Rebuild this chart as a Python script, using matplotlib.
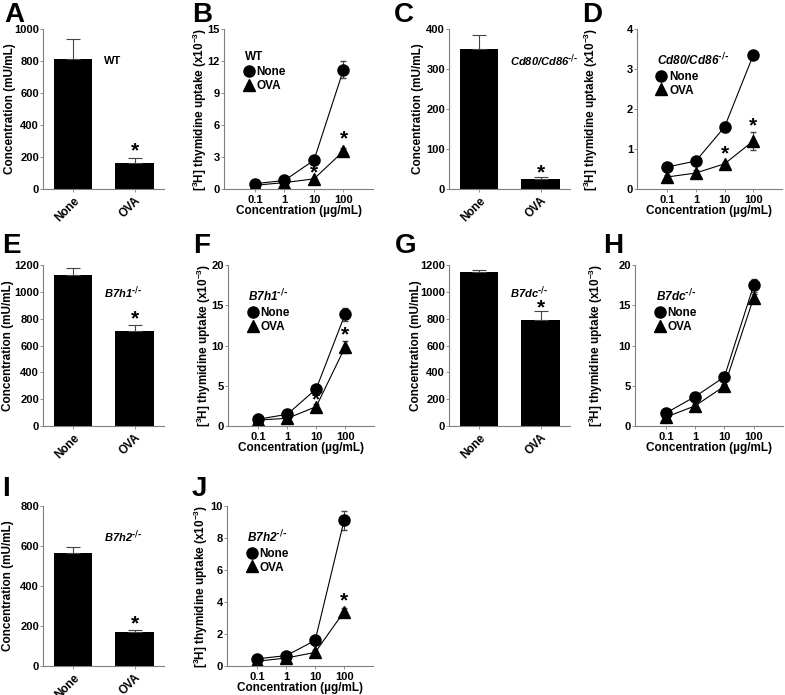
import matplotlib
matplotlib.use("Agg")
import matplotlib.pyplot as plt
from matplotlib.lines import Line2D
import numpy as np

plt.rcParams["font.family"] = ["Liberation Sans", "DejaVu Sans"]
plt.rcParams["font.weight"] = "bold"
plt.rcParams["axes.labelweight"] = "bold"
plt.rcParams["mathtext.default"] = "regular"

# bar panels (A, C, E, G, I)
groups = ["None", "OVA"]
bar_a = [810, 165]
bar_a_err = [130, 30]
bar_c = [350, 25]
bar_c_err = [35, 5]
bar_e = [1125, 710]
bar_e_err = [50, 40]
bar_g = [1145, 790]
bar_g_err = [15, 65]
bar_i = [565, 170]
bar_i_err = [30, 8]

# line panels (B, D, F, H, J)
doses = [0.1, 1, 10, 100]
dose_labels = ["0.1", "1", "10", "100"]
b_none = [0.5, 0.8, 2.7, 11.2]
b_none_err = [0.1, 0.1, 0.2, 0.8]
b_ova = [0.35, 0.6, 0.95, 3.55]
b_ova_err = [0.05, 0.08, 0.1, 0.3]
d_none = [0.55, 0.7, 1.55, 3.35]
d_none_err = [0.05, 0.05, 0.12, 0.04]
d_ova = [0.3, 0.4, 0.63, 1.2]
d_ova_err = [0.05, 0.08, 0.05, 0.22]
f_none = [0.85, 1.45, 4.6, 13.9]
f_none_err = [0.15, 0.2, 0.3, 0.8]
f_ova = [0.75, 0.95, 2.4, 9.8]
f_ova_err = [0.1, 0.1, 0.3, 0.7]
h_none = [1.6, 3.65, 6.1, 17.5]
h_none_err = [0.3, 0.3, 0.3, 0.8]
h_ova = [1.1, 2.5, 4.95, 15.95]
h_ova_err = [0.1, 0.2, 0.3, 0.4]
j_none = [0.45, 0.65, 1.6, 9.1]
j_none_err = [0.1, 0.1, 0.3, 0.6]
j_ova = [0.3, 0.5, 0.85, 3.4]
j_ova_err = [0.05, 0.08, 0.15, 0.2]

KO = r"$^{\text{-/-}}$"

W, H = 785, 695
fig = plt.figure(figsize=(W / 100, H / 100), dpi=100)

GRAY = "#7f7f7f"


def add_ax(left, top, right, bottom):
    return fig.add_axes([left / W, 1 - bottom / H, (right - left) / W, (bottom - top) / H])


def style(ax):
    for s in ["top", "right"]:
        ax.spines[s].set_visible(False)
    for s in ["left", "bottom"]:
        ax.spines[s].set_color(GRAY)
        ax.spines[s].set_linewidth(0.8)
    ax.tick_params(length=2.5, width=0.6, color=GRAY, labelsize=8, pad=1.5)
    ax.tick_params(axis="y", length=2, pad=0.8)


def place_ylabel(ax, x_px, left_px, width_px):
    # centre of the y label at a given pixel column
    ax.yaxis.set_label_coords((x_px - left_px) / width_px, 0.5)
    ax.yaxis.label.set_verticalalignment("center")


def bar_panel(ax, vals, errs, ymax, step, label, star_y, lab_pos, italic=True):
    style(ax)
    x = np.array([0, 1])
    ax.bar(x, vals, width=0.62, color="black")
    ax.errorbar(x, vals, yerr=[[0, 0], errs], fmt="none", ecolor="#444444",
                elinewidth=0.8, capsize=5, capthick=0.8)
    ax.set_xlim(-0.49, 1.48)
    ax.set_ylim(0, ymax)
    ax.set_yticks(np.arange(0, ymax + 1, step))
    ax.set_xticks(x)
    ax.set_xticklabels(groups, rotation=45, ha="right", rotation_mode="anchor",
                       fontsize=8.4)
    ax.set_ylabel("Concentration (mU/mL)", fontsize=8.5)
    ax.text(1, star_y, "*", ha="center", va="center", fontsize=15)
    ax.text(lab_pos[0], lab_pos[1], label, transform=ax.transAxes, fontsize=8,
            style="italic" if italic else "normal", ha="left", va="center")


def line_panel(ax, none, none_err, ova, ova_err, ymax, step, label, stars, italic=True):
    style(ax)
    x = np.log10(doses)
    ax.errorbar(x, none, yerr=none_err, color="black", marker="o", markersize=8,
                linewidth=0.8, elinewidth=0.8, capsize=2, ecolor="#444444")
    ax.errorbar(x, ova, yerr=ova_err, color="black", marker="^", markersize=8,
                linewidth=0.8, elinewidth=0.8, capsize=2, ecolor="#444444")
    for sx, sy in stars:
        ax.text(np.log10(sx), sy, "*", ha="center", va="center", fontsize=15, zorder=5)
    ax.set_xlim(-2.05, 3.0)
    ax.set_ylim(0, ymax)
    ax.set_yticks(np.arange(0, ymax + 0.001, step))
    ax.set_xticks(x)
    ax.set_xticklabels(dose_labels)
    ax.set_xlabel("Concentration (\u00b5g/mL)", fontsize=8.5, labelpad=0.5)
    ax.set_ylabel("[$^{3}$H] thymidine uptake (x10$^{-3}$)", fontsize=8.5)
    handles = [Line2D([], [], color="black", marker="o", markersize=8, linestyle="none"),
               Line2D([], [], color="black", marker="^", markersize=8, linestyle="none")]
    leg = ax.legend(handles, ["None", "OVA"], title=label, loc="upper left",
                    bbox_to_anchor=(0.14, 0.86), frameon=False, fontsize=8.5,
                    handlelength=0.7, handletextpad=0.3, labelspacing=0.15,
                    borderpad=0, borderaxespad=0, alignment="left",
                    title_fontproperties={"weight": "bold", "size": 8.5,
                                          "style": "italic" if italic else "normal"})
    leg._legend_box.sep = 2


rows = [(29, 189), (265, 426), (506, 666)]


def bar_ax(left, r, ylab_x):
    right = left + 121
    ax = add_ax(left, rows[r][0], right, rows[r][1])
    place_ylabel(ax, ylab_x, left, right - left)
    return ax


def line_ax(left, r, ylab_x, right):
    ax = add_ax(left, rows[r][0], right, rows[r][1])
    place_ylabel(ax, ylab_x, left, right - left)
    return ax


ax = bar_ax(43, 0, 10)
bar_panel(ax, bar_a, bar_a_err, 1000, 200, "WT", 240, (0.5, 0.8), italic=False)
ax = line_ax(224, 0, 200, 373)
line_panel(ax, b_none, b_none_err, b_ova, b_ova_err, 15, 3, "WT",
           [(10, 1.5), (100, 4.7)], italic=False)
ax = bar_ax(449, 0, 418)
bar_panel(ax, bar_c, bar_c_err, 400, 100, "Cd80/Cd86" + KO, 40, (0.5, 0.8))
ax = line_ax(637, 0, 591, 782)
line_panel(ax, d_none, d_none_err, d_ova, d_ova_err, 4, 1, "Cd80/Cd86" + KO,
           [(10, 0.88), (100, 1.58)])

ax = bar_ax(43, 1, 8)
bar_panel(ax, bar_e, bar_e_err, 1200, 200, "B7h1" + KO, 800, (0.5, 0.83))
ax = line_ax(228, 1, 204, 374)
line_panel(ax, f_none, f_none_err, f_ova, f_ova_err, 20, 5, "B7h1" + KO,
           [(10, 3.3), (100, 11.3)])
ax = bar_ax(449, 1, 416)
bar_panel(ax, bar_g, bar_g_err, 1200, 200, "B7dc" + KO, 880, (0.5, 0.83))
ax = line_ax(635, 1, 596, 783)
line_panel(ax, h_none, h_none_err, h_ova, h_ova_err, 20, 5, "B7dc" + KO, [])

ax = bar_ax(43, 2, 8)
bar_panel(ax, bar_i, bar_i_err, 800, 200, "B7h2" + KO, 210, (0.5, 0.81))
ax = line_ax(227, 2, 201, 373)
line_panel(ax, j_none, j_none_err, j_ova, j_ova_err, 10, 2, "B7h2" + KO,
           [(10, 1.2), (100, 4.1)])

# panel letters
letters = [("A", 4, 2), ("B", 192, 2), ("C", 394, 2), ("D", 582, 2),
           ("E", 2, 233), ("F", 193, 233), ("G", 395, 233), ("H", 603, 233),
           ("I", 2, 476), ("J", 192, 476)]
for t, px, py in letters:
    fig.text(px / W, 1 - py / H, t, fontsize=20, fontweight="bold", ha="left", va="top")

fig.savefig("out.png", dpi=100)
